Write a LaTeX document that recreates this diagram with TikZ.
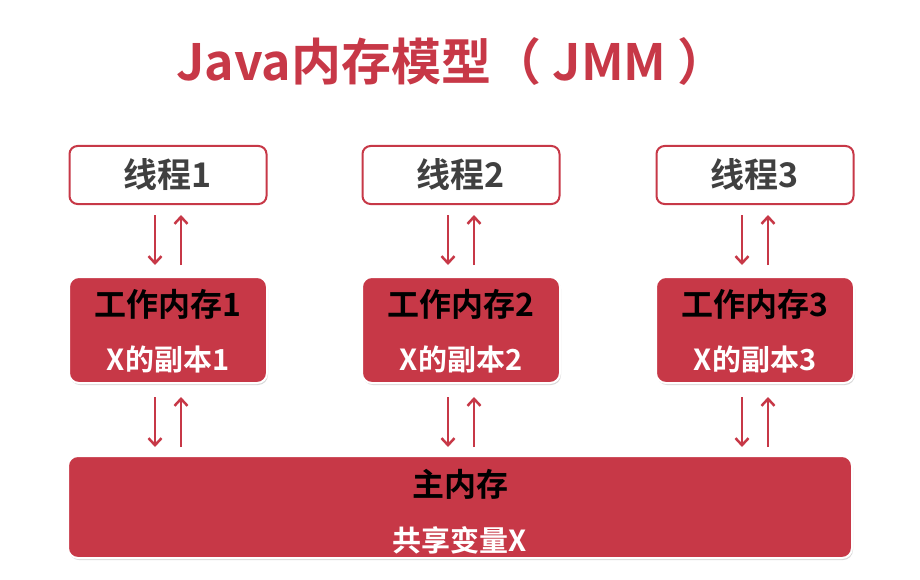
\documentclass[tikz,border=0pt]{standalone}
\usepackage{fontspec}
\setmainfont{Noto Sans CJK SC Bold}
\usetikzlibrary{arrows.meta,shadows}
\definecolor{jred}{HTML}{C73847}
\definecolor{jgray}{HTML}{404040}
\tikzset{
  thread/.style={draw=jred,line width=2pt,fill=white,rounded corners=8pt,minimum width=197pt,minimum height=58pt,text=jgray,font=\fontsize{34}{38}\selectfont},
  work/.style={draw=white,line width=2pt,fill=jred,rounded corners=10pt,drop shadow={shadow xshift=1pt,shadow yshift=-2pt,opacity=0.3},minimum width=198pt,minimum height=106pt},
  arr/.style={draw=jred,line width=2.5pt,-{Straight Barb[length=7pt,width=13pt]}},
  wt/.style={font=\fontsize{32}{36}\selectfont,text=black},
  ws/.style={font=\fontsize{29}{32}\selectfont,text=white},
}
\begin{document}
\begin{tikzpicture}[x=1pt,y=-1pt]
\useasboundingbox (0,0) rectangle (920,580);
\node[text=jred,font=\fontsize{50}{54}\selectfont] (title) at (452,62) {Java内存模型（ JMM ）};
\node[work,minimum width=784pt,minimum height=102pt] (main) at (460,507) {};
\node[wt] (mt) at (460,484) {主内存};
\node[ws] (ms) at (460,540) {共享变量X};
\foreach \i/\x in {1/168,2/461,3/755}{
  \node[thread] (t\i) at (\x,175) {线程\i};
  \node[work] (w\i) at (\x,330) {};
  \node[wt] (wt\i) at (\x,304) {工作内存\i};
  \node[ws] (ws\i) at (\x,359) {X的副本\i};
  \coordinate (a\i) at (\x-13,215);
  \coordinate (b\i) at (\x-13,265);
  \coordinate (c\i) at (\x+13,215);
  \coordinate (d\i) at (\x+13,265);
  \coordinate (e\i) at (\x-13,397);
  \coordinate (f\i) at (\x-13,447);
  \coordinate (g\i) at (\x+13,397);
  \coordinate (h\i) at (\x+13,447);
  \draw[arr] (a\i) -- (b\i);
  \draw[arr] (d\i) -- (c\i);
  \draw[arr] (e\i) -- (f\i);
  \draw[arr] (h\i) -- (g\i);
}
\end{tikzpicture}
\end{document}
